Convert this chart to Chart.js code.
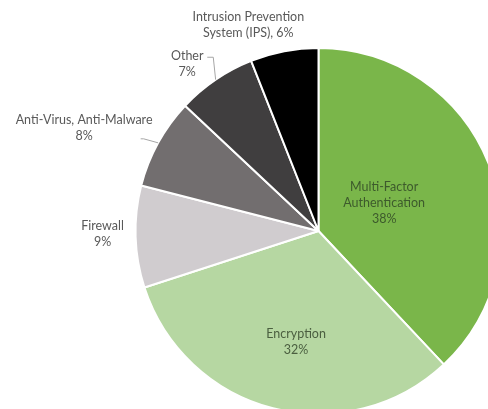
<!DOCTYPE html>
<html>
<head>
<meta charset="utf-8">
<script src="https://cdn.jsdelivr.net/npm/chart.js@4.4.1/dist/chart.umd.min.js"></script>
<style>
    html, body { margin: 0; padding: 0; background: #fff; overflow: hidden; }
    #wrap { position: absolute; left: 0; top: 0; width: 520px; height: 430px; }
</style>
</head>
<body>
<div id="wrap"><canvas id="chart"></canvas></div>
<script>
// ─── Data ─────────────────────────────────────────────────────────────────
const categories = [
    'Multi-Factor Authentication',
    'Encryption',
    'Firewall',
    'Anti-Virus, Anti-Malware',
    'Other',
    'Intrusion Prevention System (IPS)',
];
const shares = [38, 32, 9, 8, 7, 6];

// Label lines as shown on the picture (category text wrapped, then percent)
const labelLines = [
    ['Multi-Factor', 'Authentication', '38%'],
    ['Encryption', '32%'],
    ['Firewall', '9%'],
    ['Anti-Virus, Anti-Malware', '8%'],
    ['Other', '7%'],
    ['Intrusion Prevention', 'System (IPS), 6%'],
];

// ─── Styles ───────────────────────────────────────────────────────────────
const sliceColors = ['#7ab64a', '#b6d7a2', '#d0cccf', '#726e6f', '#403e3f', '#000000'];
const textColors  = ['#3d5a2c', '#4b5f40', '#595959', '#595959', '#595959', '#595959'];

// [radius factor, angle tweak in degrees] for each label centre
const labelPlace = [
    [0.39, -1.5],
    [0.62, -3],
    [1.18, 1],
    [1.40, -5],
    [1.16, -4],
    [1.19, -8],
];

// leader lines: [elbow radius factor, elbow angle tweak, horizontal end dx]
const leaders = {
    3: [1.08, -1, -3],
    4: [1.11, 3, -6],
};

const FONT = '12.5px Lato, "Open Sans", sans-serif';
const LINE_H = 16;

const labelPlugin = {
    id: 'sliceLabels',
    afterDatasetsDraw(chart) {
        const ctx  = chart.ctx;
        const meta = chart.getDatasetMeta(0);
        ctx.save();
        ctx.font = FONT;
        ctx.textAlign = 'center';
        ctx.textBaseline = 'middle';

        meta.data.forEach((arc, i) => {
            const { x, y, startAngle, endAngle, outerRadius } = arc.getProps(
                ['x', 'y', 'startAngle', 'endAngle', 'outerRadius'], true);
            const mid = (startAngle + endAngle) / 2;

            // leader line from the slice edge
            if (leaders[i]) {
                const [rf, tweak, dx] = leaders[i];
                const a2 = mid + tweak * Math.PI / 180;
                const ex = x + Math.cos(mid) * outerRadius;
                const ey = y + Math.sin(mid) * outerRadius;
                const bx = x + Math.cos(a2) * outerRadius * rf;
                const by = y + Math.sin(a2) * outerRadius * rf;
                ctx.strokeStyle = '#a6a6a6';
                ctx.lineWidth = 1;
                ctx.beginPath();
                ctx.moveTo(ex, ey);
                ctx.lineTo(bx, by);
                ctx.lineTo(bx + dx, by);
                ctx.stroke();
            }

            const [rf, tweak] = labelPlace[i];
            const a = mid + tweak * Math.PI / 180;
            const cx = x + Math.cos(a) * outerRadius * rf;
            const cy = y + Math.sin(a) * outerRadius * rf;
            const lines = labelLines[i];
            const top = cy - (lines.length - 1) * LINE_H / 2;
            ctx.fillStyle = textColors[i];
            lines.forEach((t, k) => ctx.fillText(t, cx, top + k * LINE_H));
        });
        ctx.restore();
    },
};

new Chart(document.getElementById('chart'), {
    type: 'pie',
    data: {
        labels: categories,
        datasets: [{
            data:            shares,
            backgroundColor: sliceColors,
            borderColor:     '#ffffff',
            borderWidth:     2,
            hoverOffset:     0,
        }],
    },
    options: {
        responsive:          true,
        maintainAspectRatio: false,
        animation:           false,
        radius:              183,
        layout: { padding: { left: 135.5, top: 48, right: 18.5, bottom: 16 } },
        plugins: {
            legend:  { display: false },
            tooltip: { enabled: false },
        },
    },
    plugins: [labelPlugin],
});
</script>
</body>
</html>
